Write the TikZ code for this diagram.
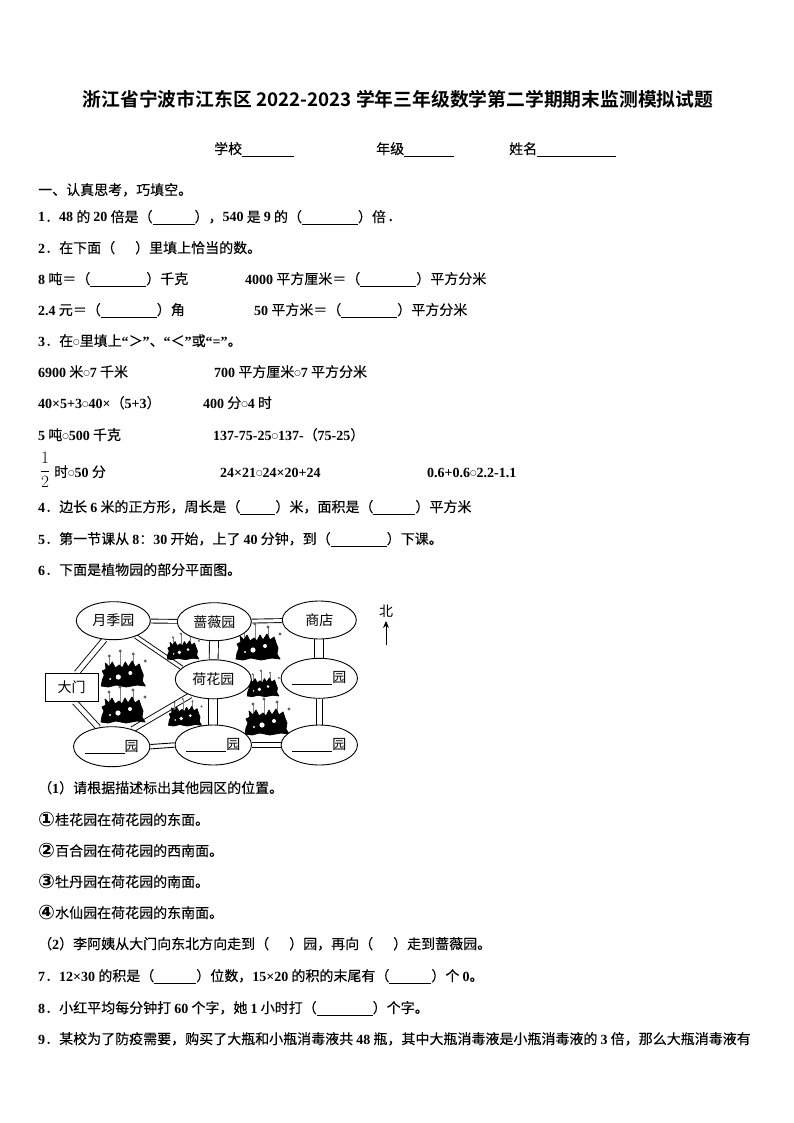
\documentclass[tikz,border=0pt]{standalone}
\usepackage{fontspec}
\usetikzlibrary{shapes.geometric,arrows.meta,backgrounds}
\setmainfont{Noto Sans CJK SC}[FakeBold=0.12]
\newfontfamily\titlefont{Noto Sans CJK SC Bold}
\newfontfamily\mapfont{Noto Sans CJK SC}
\newfontfamily\latinb{Liberation Serif}[BoldFont={Liberation Serif Bold}]
\newfontfamily\dejav{DejaVu Sans}
\newcommand{\nm}[1]{{\latinb\bfseries #1}}
\newcommand{\bl}[1]{\rule[-2.5pt]{#1pt}{0.8pt}}
\newcommand{\oo}{\raisebox{1.6pt}{\dejav\fontsize{7.5}{7.5}\selectfont ○}}
\newcommand{\cn}[1]{\raisebox{-1.5pt}{\dejav\bfseries\fontsize{20}{20}\selectfont #1}}
\newcommand{\bushat}[3]{%
\begin{scope}[shift={(#1,#2)},scale=#3]
\draw[gray,line width=.5] (-14,-6)--(-14,-18) (-3,-8)--(-3,-23) (10,-8)--(10,-20) (-18,-4)--(-18,-12);
\fill[gray!75!black] (-14,-19) circle (1.6) (-3,-24) circle (1.6) (10,-21) circle (1.6) (22,-14) circle (1.6);
\fill[black,draw=black,line width=.8,line join=round] (-22,11)--(-21,5)--(-19,0)--(-21,-4)--(-17,-6)--(-18,-12)--(-14,-8)--(-11,-13)--(-8,-7)--(-4,-10)--(-1,-7)--(2,-13)--(5,-8)--(9,-14)--(12,-8)--(16,-11)--(18,-5)--(20,0)--(19,6)--(22,11)--(14,10)--(3,12)--(-7,10)--(-15,12)--cycle;
\fill[white] (-5,2) circle (2.6) (7,-2) circle (2) (-13,4) circle (1.1);
\end{scope}}
\tikzset{
 txt/.style={anchor=base west,inner sep=0pt,font=\fontsize{14}{14}\selectfont},
 garden/.style={ellipse,draw,fill=white,line width=.9pt,inner sep=0pt,minimum width=74pt,minimum height=38pt,font=\mapfont\fontsize{14}{14}\selectfont},
 road/.style={double,double distance=3pt,line width=.9pt},
 midroad/.style={double,double distance=4.5pt,line width=.9pt},
 wideroad/.style={double,double distance=8pt,line width=.9pt},
 rail/.style={line width=.9pt},
 gatebox/.style={rectangle,draw,fill=white,line width=1.1pt,minimum width=53pt,minimum height=28pt,inner sep=0pt,font=\mapfont\fontsize{14}{14}\selectfont}
}
\begin{document}
\begin{tikzpicture}[x=1pt,y=-1pt]
\useasboundingbox (0,0) rectangle (794,1123);
\node[inner sep=0pt,font=\titlefont\fontsize{18.8}{19}\selectfont] (title) at (398,99) {浙江省宁波市江东区 2022-2023 学年三年级数学第二学期期末监测模拟试题};
\node[txt] (school) at (214,154) {学校\bl{52}};
\node[txt] (grade) at (376,154) {年级\bl{50}};
\node[txt] (name) at (509,154) {姓名\bl{79}};
\node[txt] (q0) at (38,195) {一、认真思考，巧填空。};
\node[txt] (q1) at (38,222) {\nm{1}．\nm{48} 的 \nm{20} 倍是（\bl{42}），\nm{540} 是 \nm{9} 的（\bl{56}）倍 \nm{.}};
\node[txt] (q2) at (38,253) {\nm{2}．在下面（\hspace{20pt}）里填上恰当的数。};
\node[txt] (a1) at (38,284) {\nm{8} 吨＝（\bl{56}）千克};
\node[txt] (a2) at (245,284) {\nm{4000} 平方厘米＝（\bl{56}）平方分米};
\node[txt] (a3) at (38,315) {\nm{2.4} 元＝（\bl{56}）角};
\node[txt] (a4) at (254,315) {\nm{50} 平方米＝（\bl{56}）平方分米};
\node[txt] (q3) at (38,346) {\nm{3}．在\oo 里填上\nm{“}＞\nm{”}、\nm{“}＜\nm{”}或\nm{“=”}。};
\node[txt] (b1) at (38,377) {\nm{6900} 米\oo\nm{7} 千米};
\node[txt] (b2) at (214,377) {\nm{700} 平方厘米\oo\nm{7} 平方分米};
\node[txt] (b3) at (38,408) {\nm{40×5+3}\oo\nm{40×}（\nm{5+3}）};
\node[txt] (b4) at (203,408) {\nm{400} 分\oo\nm{4} 时};
\node[txt] (b5) at (38,440) {\nm{5} 吨\oo\nm{500} 千克};
\node[txt] (b6) at (213,440) {\nm{137-75-25}\oo\nm{137-}（\nm{75-25}）};
\node[inner sep=0pt,font=\fontsize{17}{17}\selectfont] (frac) at (45,470) {$\displaystyle\frac{1}{2}$};
\node[txt] (c1) at (54,477) {时\oo\nm{50} 分};
\node[txt] (c2) at (220,477) {\nm{24×21}\oo\nm{24×20+24}};
\node[txt] (c3) at (427,477) {\nm{0.6+0.6}\oo\nm{2.2-1.1}};
\node[txt] (q4) at (38,512) {\nm{4}．边长 \nm{6} 米的正方形，周长是（\bl{35}）米，面积是（\bl{42}）平方米};
\node[txt] (q5) at (38,544) {\nm{5}．第一节课从 \nm{8}：\nm{30} 开始，上了 \nm{40} 分钟，到（\bl{56}）下课。};
\node[txt] (q6) at (38,575) {\nm{6}．下面是植物园的部分平面图。};
% garden map
\node[garden] (moon) at (113.3,620.7) {月季园};
\node[garden] (rose) at (214.3,621.7) {蔷薇园};
\node[garden] (shop) at (319.3,620) {商店};
\node[garden,minimum width=76pt,minimum height=39pt] (lotus) at (213.3,679.3) {荷花园};
\node[garden,minimum width=76pt,minimum height=40pt] (east) at (319.3,678.3) {\bl{40}园};
\node[garden,minimum width=76pt,minimum height=40pt] (sw) at (111.7,746.7) {\bl{40}园};
\node[garden,minimum width=76pt,minimum height=40pt] (south) at (213.3,745) {\bl{40}园};
\node[garden,minimum height=40pt] (se) at (319.3,745) {\bl{40}园};
\node[gatebox] (gate) at (71.7,687.5) {大门};
\node[inner sep=0pt,font=\mapfont\fontsize{14}{14}\selectfont] (north) at (386,611) {北};
\coordinate (ntail) at (386,645);
\coordinate (nhead) at (386,621);
\draw[line width=1pt,-{Stealth[length=7pt,width=6pt]}] (ntail) -- (nhead);
\begin{scope}[on background layer]
\draw[road] (moon) -- (rose);
\draw[road] (rose) -- (shop);
\draw[wideroad] (rose) -- (lotus);
\draw[wideroad] (shop) -- (east);
\draw[wideroad] (lotus) -- (south);
\draw[rail] ([xshift=-3pt]east.south) -- ([xshift=-3pt]se.north);
\draw[rail] ([xshift=3pt]east.south) -- ([xshift=3pt]se.north);
\draw[rail] ([yshift=-2.2pt]sw.east) -- ([yshift=-2.2pt]south.west);
\draw[rail] ([yshift=2.2pt]sw.east) -- ([yshift=2.2pt]south.west);
\draw[rail] ([yshift=-2.2pt]south.east) -- ([yshift=-2.2pt]se.west);
\draw[rail] ([yshift=2.2pt]south.east) -- ([yshift=2.2pt]se.west);
\draw[midroad] ([xshift=5pt]gate.north) -- (moon.245);
\draw[midroad] ([xshift=3pt]gate.south) -- (sw.125);
\draw[midroad] (lotus.215) -- (sw.40);
\draw[road] (moon.-35) -- (lotus.160);
\bushat{123.3}{675}{1}
\bushat{123}{711}{1}
\bushat{183}{651}{.72}
\bushat{258}{648}{1}
\bushat{263}{688}{.72}
\bushat{185}{717}{.75}
\bushat{267}{723}{1}
\end{scope}
% rest of the text
\node[txt] (p1) at (38,793) {（\nm{1}）请根据描述标出其他园区的位置。};
\node[txt] (d1) at (38,825) {\cn{①}桂花园在荷花园的东面。};
\node[txt] (d2) at (38,856) {\cn{②}百合园在荷花园的西南面。};
\node[txt] (d3) at (38,887) {\cn{③}牡丹园在荷花园的南面。};
\node[txt] (d4) at (38,918) {\cn{④}水仙园在荷花园的东南面。};
\node[txt] (p2) at (38,949) {（\nm{2}）李阿姨从大门向东北方向走到（\hspace{20pt}）园，再向（\hspace{20pt}）走到蔷薇园。};
\node[txt] (q7) at (38,981) {\nm{7}．\nm{12×30} 的积是（\bl{42}）位数，\nm{15×20} 的积的末尾有（\bl{42}）个 \nm{0}。};
\node[txt] (q8) at (38,1013) {\nm{8}．小红平均每分钟打 \nm{60} 个字，她 \nm{1} 小时打（\bl{56}）个字。};
\node[txt] (q9) at (38,1044) {\nm{9}．某校为了防疫需要，购买了大瓶和小瓶消毒液共 \nm{48} 瓶，其中大瓶消毒液是小瓶消毒液的 \nm{3} 倍，那么大瓶消毒液有};
\end{tikzpicture}
\end{document}
